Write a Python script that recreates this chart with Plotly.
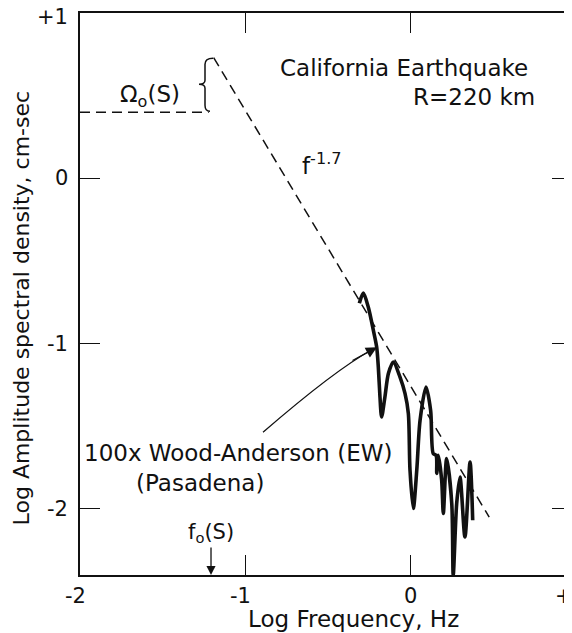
import plotly.graph_objects as go

# ---- data (log10 units) ----
spec_x = [-0.307, -0.283, -0.253, -0.222, -0.202, -0.192, -0.182, -0.172, -0.152, -0.131,
          -0.101, -0.061, -0.030, -0.010, 0.000, 0.020, 0.041, 0.061, 0.097, 0.125,
          0.141, 0.158, 0.162, 0.172, 0.192, 0.202, 0.222, 0.253, 0.262, 0.283,
          0.303, 0.333, 0.364, 0.380]
spec_y = [-0.756, -0.694, -0.779, -0.920, -1.021, -1.142, -1.323, -1.444, -1.323, -1.181,
          -1.111, -1.202, -1.303, -1.423, -1.766, -1.998, -1.766, -1.464, -1.263, -1.404,
          -1.666, -1.676, -1.785, -1.676, -1.827, -2.028, -1.696, -1.966, -2.400, -1.966,
          -1.807, -2.170, -1.716, -2.069]

plateau_x = [-2.0, -1.22]
plateau_y = [0.40, 0.40]
slope_x = [-1.19, 0.48]
slope_y = [0.73, -2.05]

f0_x = -1.206

xtick_vals = [-2, -1, 0, 1]
xtick_text = ["-2", "-1", "0", "+1"]
ytick_vals = [-2, -1, 0, 1]
ytick_text = ["-2", "-1", "0", "+1"]

FONT = "DejaVu Sans"
BLACK = "#111111"

# page body has an 8px margin; page coords below are mapped into figure coords
BODY = 8
PL, PR, PT, PB = 80, 572, 12.5, 574.7   # plot edges in page pixels
FIG_W, FIG_H = 572 - BODY, 633 - BODY
X_PER_PX = 1 / 165
Y_PER_PX = 1 / 165.3

fig = go.Figure()
fig.add_trace(go.Scatter(x=plateau_x, y=plateau_y, mode="lines",
                         line=dict(color=BLACK, width=1.5, dash="10px,6px"),
                         showlegend=False, hoverinfo="skip"))
fig.add_trace(go.Scatter(x=slope_x, y=slope_y, mode="lines",
                         line=dict(color=BLACK, width=1.5, dash="10px,6px"),
                         showlegend=False, hoverinfo="skip"))
fig.add_trace(go.Scatter(x=spec_x, y=spec_y, mode="lines",
                         line=dict(color=BLACK, width=3.6, shape="spline", smoothing=0.8),
                         showlegend=False, hoverinfo="skip"))
# invisible trace for right-side ticks
fig.add_trace(go.Scatter(x=[-2], y=[0], yaxis="y2", mode="markers",
                         marker=dict(opacity=0), showlegend=False, hoverinfo="skip"))

XR = [-2.0, -2.0 + (PR - PL) * X_PER_PX]
YR = [-2.4, 1.0]

fig.update_layout(
    width=FIG_W, height=FIG_H,
    margin=dict(l=PL - BODY, r=0, t=PT - BODY, b=FIG_H - (PB - BODY), autoexpand=False),
    paper_bgcolor="white", plot_bgcolor="white",
    font=dict(family=FONT, color=BLACK, size=21),
    xaxis=dict(range=XR, showgrid=False, zeroline=False, showline=True,
               linecolor=BLACK, linewidth=1.5, mirror="ticks",
               ticks="inside", ticklen=20, tickwidth=1.3, tickcolor=BLACK,
               tickvals=xtick_vals, showticklabels=False),
    yaxis=dict(range=YR, showgrid=False, zeroline=False, showline=True,
               linecolor=BLACK, linewidth=1.5,
               ticks="inside", ticklen=20, tickwidth=1.3, tickcolor=BLACK,
               tickvals=ytick_vals, showticklabels=False),
    yaxis2=dict(range=YR, overlaying="y", side="right", showgrid=False,
                zeroline=False, showline=False, ticks="inside", ticklen=20,
                tickwidth=1.3, tickcolor=BLACK, tickvals=ytick_vals,
                showticklabels=False),
)

def px2x(p):
    return (p - PL) * X_PER_PX - 2

def py2y(p):
    return (178 - p) * Y_PER_PX

def ppx(p):   # page x -> paper
    return (p - PL) / (PR - PL)

def ppy(p):   # page y -> paper
    return (PB - p) / (PB - PT)

tickfont = dict(family=FONT, size=21, color=BLACK)
# x tick labels
for v, t in zip(xtick_vals, xtick_text):
    fig.add_annotation(x=ppx(PL + (v - XR[0]) / X_PER_PX), y=ppy(596),
                       xref="paper", yref="paper", text=t,
                       xshift=-5 if t.startswith(("-", "+")) else 0,
                       showarrow=False, xanchor="center", yanchor="middle",
                       font=tickfont)
# y tick labels
for v, t in zip(ytick_vals, ytick_text):
    fig.add_annotation(x=ppx(70), y=(v - YR[0]) / (YR[1] - YR[0]),
                       xref="paper", yref="paper", text=t,
                       yshift=-4 if v == YR[1] else 0,
                       showarrow=False, xanchor="right", yanchor="middle",
                       font=tickfont)

# brace
brace = ("M {a},{b} Q {c},{b} {c},{d} L {c},{e} Q {c},{f} {g},{f} Q {c},{f} {c},{h} "
         "L {c},{i} Q {c},{j} {k},{j}").format(
    a=px2x(213), b=py2y(58), c=px2x(205), d=py2y(64), e=py2y(80), f=py2y(84),
    g=px2x(199), h=py2y(88), i=py2y(105), j=py2y(111), k=px2x(210))
fig.add_shape(type="path", path=brace, xref="x", yref="y",
              line=dict(color=BLACK, width=1.5))

# curved pointer to spectrum
curve = "M {},{} Q {},{} {},{}".format(px2x(263), py2y(432), px2x(335.5), py2y(369.3),
                                       px2x(372), py2y(349.5))
fig.add_shape(type="path", path=curve, xref="x", yref="y",
              line=dict(color=BLACK, width=1.3))
fig.add_annotation(x=px2x(377), y=py2y(347), ax=-26, ay=14, text="",
                   showarrow=True, arrowhead=2, arrowsize=1.7, arrowwidth=1.3,
                   arrowcolor=BLACK)

ann = dict(showarrow=False, yanchor="middle", font=dict(family=FONT, size=23, color=BLACK))
fig.add_annotation(x=px2x(530), y=py2y(68), text="California Earthquake",
                   xanchor="right", **ann)
fig.add_annotation(x=px2x(537), y=py2y(97), text="R=220 km",
                   xanchor="right", **ann)
fig.add_annotation(x=px2x(300), y=py2y(164), text="f<sup>-1.7</sup>",
                   xanchor="left", **ann)
fig.add_annotation(x=px2x(150), y=py2y(96), text="Ω<sub>o</sub>(S)",
                   xanchor="center", **ann)
fig.add_annotation(x=px2x(82), y=py2y(453), text="100x Wood-Anderson (EW)",
                   xanchor="left", **ann)
fig.add_annotation(x=px2x(200), y=py2y(483), text="(Pasadena)",
                   xanchor="center", **ann)
fig.add_annotation(x=f0_x, y=YR[0], ax=0, ay=-42, text="f<sub>o</sub>(S)",
                   showarrow=True, arrowhead=2, arrowsize=1.4, arrowwidth=1.3,
                   arrowcolor=BLACK, font=dict(family=FONT, size=21, color=BLACK))

# axis titles
fig.add_annotation(xref="paper", yref="paper", x=ppx(353), y=ppy(619),
                   xanchor="center", yanchor="middle",
                   text="Log Frequency, Hz", showarrow=False,
                   font=dict(family=FONT, size=23, color=BLACK))
fig.add_annotation(xref="paper", yref="paper", x=ppx(21), y=ppy(308),
                   xanchor="center", yanchor="middle",
                   text="Log Amplitude spectral density, cm-sec", textangle=-90,
                   showarrow=False, font=dict(family=FONT, size=22, color=BLACK))

fig.write_html("out.html")
